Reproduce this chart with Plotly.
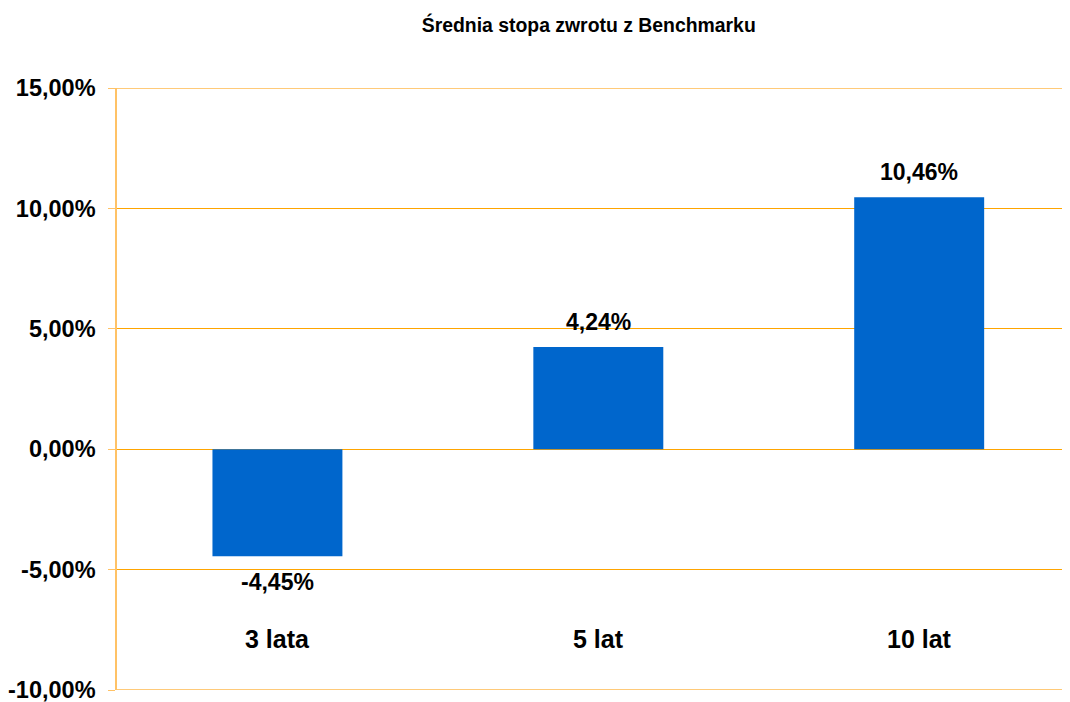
import plotly.graph_objects as go

categories = ["3 lata", "5 lat", "10 lat"]
values = [-0.0445, 0.0424, 0.1046]
tick_vals = [-0.10, -0.05, 0.0, 0.05, 0.10, 0.15]
title_text = "Średnia stopa zwrotu z Benchmarku"

FONT = "Liberation Sans, Arial, sans-serif"

def fmt(v):
    return f"{v*100:.2f}".replace(".", ",") + "%"

tick_text = [fmt(t) for t in tick_vals]

fig = go.Figure()
fig.add_trace(go.Bar(
    x=categories, y=values,
    marker=dict(color="#0066CC", line=dict(width=0)),
    width=0.405,
    hoverinfo="skip",
))

annotations = []
for c, v in zip(categories, values):
    annotations.append(dict(
        x=c, y=v, xref="x", yref="y", text=fmt(v),
        showarrow=False, yshift=25 if v >= 0 else -26,
        font=dict(family=FONT, size=23, color="#000000", weight="bold"),
    ))
    annotations.append(dict(
        x=c, y=0.085, xref="x", yref="paper", text=c,
        showarrow=False, yanchor="middle",
        font=dict(family=FONT, size=25, color="#000000", weight="bold"),
    ))

# grid lines at the range ends (Plotly skips grid lines on the plot edges)
for t in (tick_vals[0], tick_vals[-1]):
    fig.add_shape(type="line", xref="paper", yref="y", x0=0, x1=1, y0=t, y1=t,
                  line=dict(color="#FFB84D", width=1.5), layer="below")

fig.update_layout(
    width=1062, height=694,
    margin=dict(l=109, r=0, t=80, b=12),
    paper_bgcolor="white", plot_bgcolor="white",
    showlegend=False,
    title=dict(text=title_text, x=0.495, xref="paper", y=1 - 17 / 694, yref="container",
               yanchor="middle", font=dict(family=FONT, size=19.4, color="#000000", weight="bold")),
    annotations=annotations,
    xaxis=dict(range=[-0.5, 2.47], showticklabels=False, showgrid=False,
               zeroline=False, showline=False, ticks="", automargin=False),
    yaxis=dict(range=[-0.10, 0.15], tickvals=tick_vals, ticktext=tick_text,
               showgrid=True, gridcolor="#FFA500", gridwidth=1,
               zeroline=False, showline=True, linecolor="#FFC266", linewidth=1.5,
               ticks="outside", ticklen=7, tickcolor="#FFC266",
               ticklabelstandoff=8, automargin=False, ticklabeloverflow="allow",
               tickfont=dict(family=FONT, size=23.5, color="#000000", weight="bold")),
)

fig.write_html("out.html")
